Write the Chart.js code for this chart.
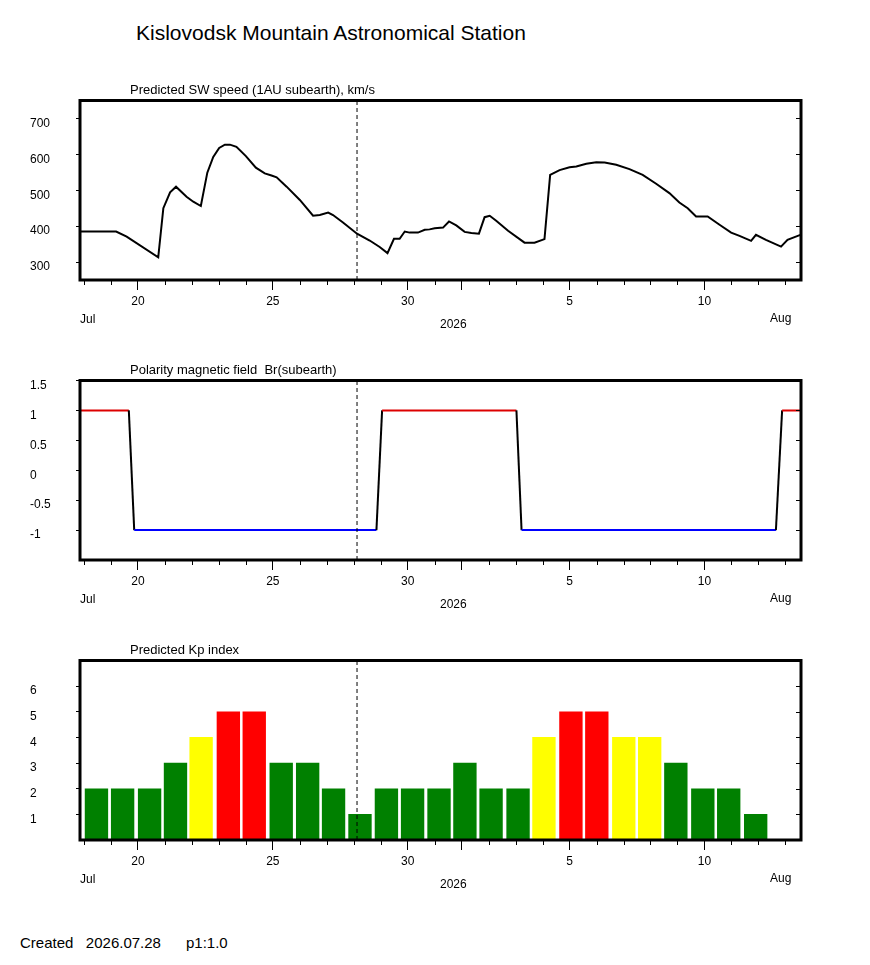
<!DOCTYPE html>
<html>
<head>
<meta charset="utf-8">
<script src="https://cdn.jsdelivr.net/npm/chart.js@4.4.1/dist/chart.umd.min.js"></script>
<style>
  body { margin: 0; background: #fff; }
  #page { position: relative; width: 870px; height: 965px; background: #fff;
          font-family: Arial, 'Liberation Sans', sans-serif; color: #000; }
  .txt { position: absolute; line-height: 1; white-space: pre; }
  .panel { position: absolute; left: 0; width: 870px; height: 280px; }
  .panel canvas { position: absolute; left: 0; top: 0; }
  .sub { left: 130px; top: 23px; font-size: 13px; }
  .jul { left: 80px; top: 252.8px; font-size: 12px; }
  .year { left: 440px; top: 257.8px; font-size: 12px; }
  .aug { left: 770px; top: 252.3px; font-size: 12px; }
</style>
</head>
<body>
<div id="page">
  <div class="txt" style="left:136px;top:22.2px;font-size:21px">Kislovodsk Mountain Astronomical Station</div>

  <div class="panel" style="top:60px">
    <canvas id="speedChart" width="870" height="280"></canvas>
    <div class="txt sub">Predicted SW speed (1AU subearth), km/s</div>
    <div class="txt jul">Jul</div><div class="txt year">2026</div><div class="txt aug">Aug</div>
  </div>

  <div class="panel" style="top:340px">
    <canvas id="polarityChart" width="870" height="280"></canvas>
    <div class="txt sub">Polarity magnetic field  Br(subearth)</div>
    <div class="txt jul">Jul</div><div class="txt year">2026</div><div class="txt aug">Aug</div>
  </div>

  <div class="panel" style="top:620px">
    <canvas id="kpChart" width="870" height="280"></canvas>
    <div class="txt sub">Predicted Kp index</div>
    <div class="txt jul">Jul</div><div class="txt year">2026</div><div class="txt aug">Aug</div>
  </div>

  <div class="txt" style="left:20px;top:935.3px;font-size:15px">Created   2026.07.28      p1:1.0</div>
</div>

<script>
// days counted from Jul 0 (Aug 1 = 32)
const dayMin = 17.85;
const dayMax = 44.58;
const nowDay = 28.12;
const dayTicks = [18, 19, 20, 21, 22, 23, 24, 25, 26, 27, 28, 29, 30, 31,
                  32, 33, 34, 35, 36, 37, 38, 39, 40, 41, 42, 43, 44];
const majorDays = [20, 25, 30, 32, 36, 41];
const labelDays = [20, 25, 30, 36, 41];
const labelTexts = ['20', '25', '30', '5', '10'];

// SW speed, km/s
const speedDays = [17.85, 19.19, 19.58, 20.75, 20.94, 21.19, 21.41, 21.80, 22.05, 22.33,
  22.57, 22.79, 23.01, 23.22, 23.41, 23.65, 24.00, 24.37, 24.70, 24.95,
  25.14, 25.51, 26.00, 26.49, 26.74, 27.05, 27.23, 27.60, 28.12, 28.59,
  28.96, 29.25, 29.49, 29.70, 29.89, 30.07, 30.38, 30.63, 30.81, 31.00,
  31.31, 31.53, 31.80, 32.11, 32.36, 32.64, 32.85, 33.04, 33.28, 33.72,
  34.33, 34.70, 35.07, 35.28, 35.63, 36.00, 36.25, 36.62, 36.99, 37.30,
  37.73, 38.22, 38.71, 39.21, 39.70, 40.07, 40.38, 40.69, 40.88, 41.12,
  41.56, 41.99, 42.30, 42.73, 42.91, 43.28, 43.84, 44.08, 44.46, 44.58];
const speedValues = [385, 385, 371, 313, 450, 494, 510, 482, 468, 456,
  549, 593, 618, 627, 627, 621, 595, 563, 547, 541,
  536, 510, 473, 429, 431, 438, 431, 410, 379, 360,
  342, 325, 365, 365, 385, 382, 382, 390, 391, 394,
  396, 413, 402, 384, 381, 379, 425, 429, 415, 387,
  354, 354, 364, 543, 556, 564, 566, 574, 578, 577,
  571, 559, 543, 518, 492, 466, 450, 427, 427, 427,
  404, 382, 373, 359, 376, 362, 343, 362, 373, 376];
const speedRange = [250, 750];
const speedTicks = [300, 400, 500, 600, 700];

// polarity Br
const polarityDays = [17.85, 19.66, 19.86, 28.84, 29.05, 34.03, 34.22, 43.65, 43.88, 44.58];
const polarityValues = [1, 1, -1, -1, 1, 1, -1, -1, 1, 1];
const polarityRange = [-1.5, 1.5];
const polarityTicks = [-1, -0.5, 0, 0.5, 1, 1.5];

// Kp index
const kpDays = [18.46, 19.43, 20.43, 21.39, 22.34, 23.35, 24.31, 25.31, 26.29, 27.25,
  28.23, 29.21, 30.18, 31.16, 32.12, 33.09, 34.09, 35.05, 36.05, 37.01,
  38.01, 38.97, 39.94, 40.94, 41.90, 42.90];
const kpValues = [2, 2, 2, 3, 4, 5, 5, 3, 3, 2, 1, 2, 2, 2,
  3, 2, 2, 4, 5, 5, 4, 4, 3, 2, 2, 1];
const kpRange = [0, 7];
const kpTicks = [1, 2, 3, 4, 5, 6];

Chart.defaults.font.family = "Arial, 'Liberation Sans', sans-serif";
Chart.defaults.font.size = 12;
Chart.defaults.color = '#000';

function kpColor(v) {
  if (v >= 5) return '#ff0000';
  if (v >= 4) return '#ffff00';
  return '#008000';
}

function points(xs, ys) {
  return xs.map((x, i) => ({x: x, y: ys[i]}));
}

function nowLine(range) {
  return {
    type: 'line',
    data: [{x: nowDay, y: range[0]}, {x: nowDay, y: range[1]}],
    borderColor: '#000',
    borderWidth: 1,
    borderDash: [4, 3],
    pointRadius: 0,
    order: 0
  };
}

// box, minor day ticks and inner right ticks
const framePlugin = {
  id: 'frame',
  afterDraw(chart) {
    const {ctx, chartArea: a, scales} = chart;
    ctx.save();
    ctx.strokeStyle = '#000';
    ctx.lineWidth = 1;
    ctx.beginPath();
    scales.x.ticks.forEach(t => {
      if (majorDays.includes(t.value)) return;
      const px = Math.round(scales.x.getPixelForValue(t.value)) + 0.5;
      ctx.moveTo(px, a.bottom);
      ctx.lineTo(px, a.bottom + 5);
    });
    scales.y.ticks.forEach(t => {
      const py = Math.round(scales.y.getPixelForValue(t.value)) + 0.5;
      ctx.moveTo(a.right - 5, py);
      ctx.lineTo(a.right, py);
    });
    ctx.stroke();
    ctx.lineWidth = 3;
    ctx.strokeRect(a.left, a.top, a.right - a.left, a.bottom - a.top);
    ctx.restore();
  }
};

function makeOptions(range, tickValues) {
  return {
    responsive: false,
    animation: false,
    events: [],
    layout: {padding: {left: 30, right: 69, top: 40.5, bottom: 0}},
    plugins: {legend: {display: false}, tooltip: {enabled: false}, title: {display: false}},
    scales: {
      x: {
        type: 'linear',
        min: dayMin,
        max: dayMax,
        bounds: 'data',
        offset: false,
        afterBuildTicks: s => { s.ticks = dayTicks.map(v => ({value: v})); },
        afterFit: s => { s.height = 60; },
        grid: {
          offset: false,
          drawOnChartArea: false,
          tickLength: 10,
          tickColor: c => majorDays.includes(c.tick.value) ? '#000' : 'rgba(0,0,0,0)'
        },
        border: {display: false},
        ticks: {
          autoSkip: false,
          maxRotation: 0,
          minRotation: 0,
          padding: 4,
          callback: v => {
            const i = labelDays.indexOf(v);
            return i < 0 ? '' : labelTexts[i];
          }
        }
      },
      y: {
        type: 'linear',
        min: range[0],
        max: range[1],
        bounds: 'data',
        afterBuildTicks: s => { s.ticks = tickValues.map(v => ({value: v})); },
        afterFit: s => { s.width = 50; },
        grid: {drawOnChartArea: false, tickLength: 4, color: '#000'},
        border: {display: false},
        ticks: {crossAlign: 'far', labelOffset: 5, padding: 4, callback: v => String(v)}
      }
    }
  };
}

new Chart(document.getElementById('speedChart'), {
  type: 'line',
  data: {
    datasets: [
      nowLine(speedRange),
      {
        data: points(speedDays, speedValues),
        borderColor: '#000',
        borderWidth: 2,
        pointRadius: 0,
        tension: 0,
        order: 1
      }
    ]
  },
  options: makeOptions(speedRange, speedTicks),
  plugins: [framePlugin]
});

new Chart(document.getElementById('polarityChart'), {
  type: 'line',
  data: {
    datasets: [
      nowLine(polarityRange),
      {
        data: points(polarityDays, polarityValues),
        borderWidth: 2,
        borderColor: '#000',
        pointRadius: 0,
        tension: 0,
        order: 1,
        segment: {
          borderColor: c => {
            const a = c.p0.parsed.y, b = c.p1.parsed.y;
            if (a === 1 && b === 1) return '#dd0000';
            if (a === -1 && b === -1) return '#0000ff';
            return '#000';
          }
        }
      }
    ]
  },
  options: makeOptions(polarityRange, polarityTicks),
  plugins: [framePlugin]
});

new Chart(document.getElementById('kpChart'), {
  type: 'bar',
  data: {
    datasets: [
      nowLine(kpRange),
      {
        type: 'bar',
        data: points(kpDays, kpValues),
        backgroundColor: kpValues.map(kpColor),
        borderWidth: 0,
        barThickness: 22.7,
        order: 1
      }
    ]
  },
  options: makeOptions(kpRange, kpTicks),
  plugins: [framePlugin]
});
</script>
</body>
</html>
